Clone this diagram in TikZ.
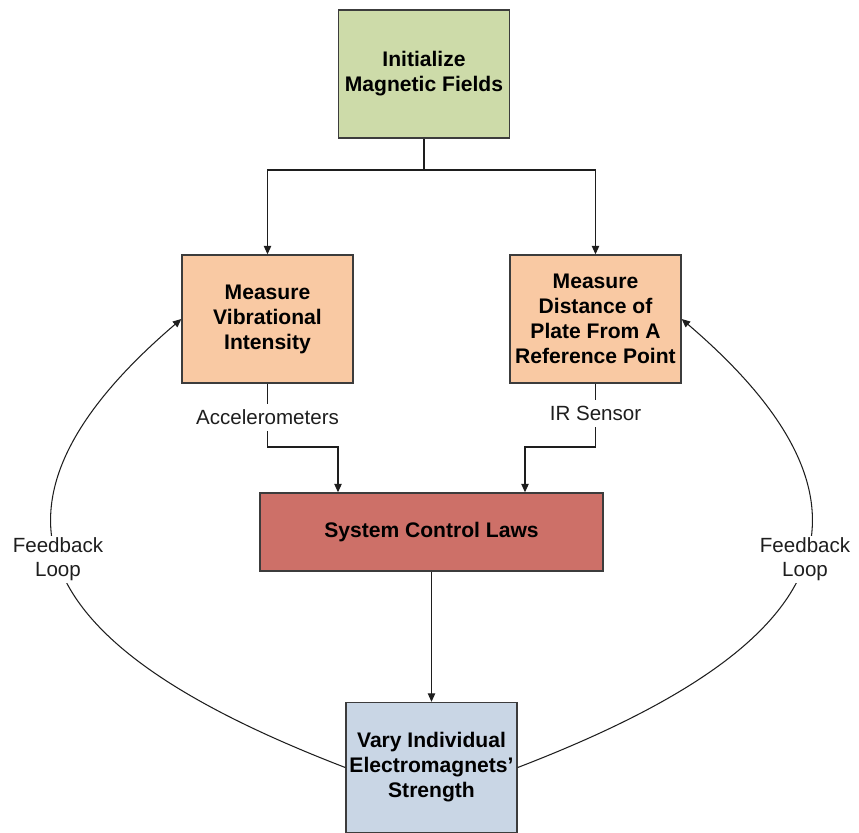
\documentclass[tikz,border=0pt]{standalone}
\usepackage{fontspec}
\setmainfont{Liberation Sans}
\usetikzlibrary{calc,arrows.meta}

\definecolor{initgreen}{HTML}{CDDBA9}
\definecolor{measorange}{HTML}{F9C9A3}
\definecolor{lawred}{HTML}{CD7068}
\definecolor{varyblue}{HTML}{C9D6E5}
\definecolor{boxline}{HTML}{3C3C3C}
\definecolor{wire}{HTML}{1E1E1E}

\begin{document}
\begin{tikzpicture}[
	x=0.02cm, y=-0.02cm,
	block/.style={
		draw=boxline,
		line width=0.8pt,
		align=center,
		inner sep=2pt,
		minimum width=3.42cm,
		minimum height=2.56cm,
		font=\bfseries\fontsize{12}{14.2}\selectfont
	},
	flow/.style={wire, line width=0.6pt, -{Triangle[length=4.8pt,width=4.2pt]}},
	wirelabel/.style={fill=white, inner xsep=1pt, inner ysep=3.5pt, font=\fontsize{11.7}{14}\selectfont, align=center},
]

% frame of the picture
\useasboundingbox (0,0) rectangle (859,832);

% blocks
\node[block, fill=initgreen] (init) at (424,74) {Initialize\\Magnetic Fields};
\node[block, fill=measorange] (vib) at (267.5,319) {Measure\\Vibrational\\Intensity};
\node[block, fill=measorange] (dist) at (595.5,319) {Measure\\Distance of\\Plate From A\\Reference Point};
\node[block, fill=lawred, minimum width=6.86cm, minimum height=1.56cm] (ctrl) at (431.5,532) {System Control Laws};
\node[block, fill=varyblue, minimum height=2.6cm] (vary) at (431.5,767.5) {Vary Individual\\Electromagnets'\\Strength};

% split below the first block
\coordinate (split) at (424,170);
\draw[flow] (init.south) -- (split) -| (vib.north);
\draw[flow] (split) -| (dist.north);

% sensors into the control laws
\coordinate (vibturn) at (267.5,447);
\coordinate (distturn) at (595.5,447);
\draw[flow] (vib.south) -- node[wirelabel, pos=0.53] {Accelerometers} (vibturn) -| ($(ctrl.north)+(-93.5,0)$);
\draw[flow] (dist.south) -- node[wirelabel, pos=0.47] {IR Sensor} (distturn) -| ($(ctrl.north)+(93.5,0)$);

\draw[flow] (ctrl.south) -- (vary.north);

% feedback loops
\draw[flow] (vary.west) .. controls (66,660) and (-63,528) ..
	node[wirelabel, pos=0.55, inner ysep=1pt] {Feedback\\Loop} (vib.west);
\draw[flow] (vary.east) .. controls (797,660) and (926,528) ..
	node[wirelabel, pos=0.55, inner ysep=1pt] {Feedback\\Loop} (dist.east);

\end{tikzpicture}
\end{document}
